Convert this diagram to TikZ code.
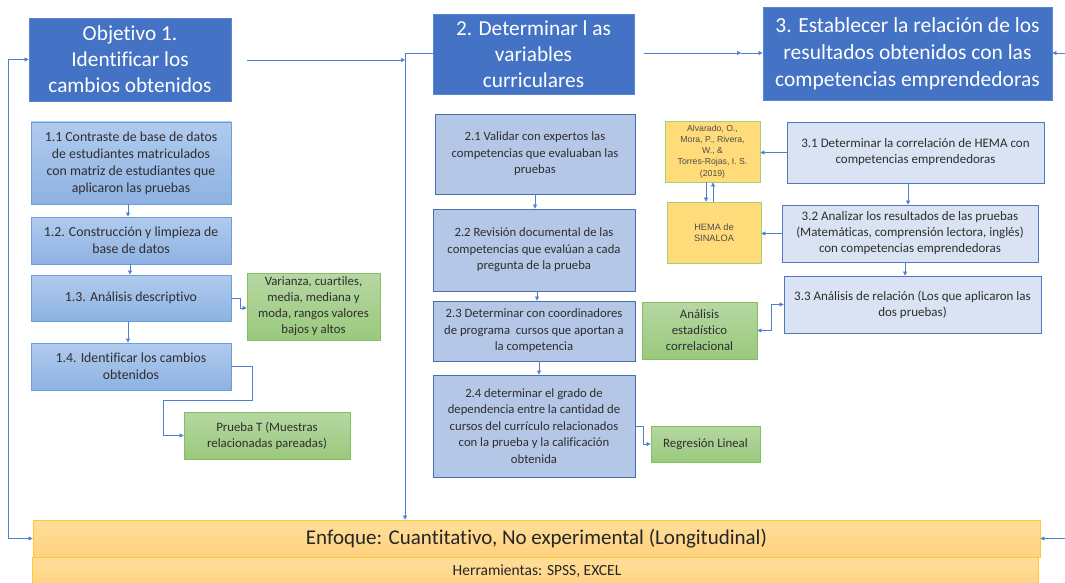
\documentclass[tikz,border=0pt]{standalone}
\usepackage{fontspec}
\setmainfont{Carlito}[Ligatures=NoCommon]
\newfontfamily\reffamily{Liberation Sans}
\usetikzlibrary{arrows.meta}

\definecolor{titleblue}{HTML}{4472C4}
\definecolor{titleedge}{HTML}{5A86CF}
\definecolor{oneTop}{HTML}{B1CBEE}
\definecolor{oneBot}{HTML}{8DB2E2}
\definecolor{oneEdge}{HTML}{6A9FDC}
\definecolor{twoFill}{HTML}{B4C7E7}
\definecolor{twoEdge}{HTML}{4A6FB0}
\definecolor{threeFill}{HTML}{DAE3F3}
\definecolor{threeEdge}{HTML}{4F78C2}
\definecolor{greenTop}{HTML}{B6D7A2}
\definecolor{greenBot}{HTML}{9AC97D}
\definecolor{greenEdge}{HTML}{86BE62}
\definecolor{refFill}{HTML}{FFDB7A}
\definecolor{refEdge}{HTML}{A5CF73}
\definecolor{baseTop}{HTML}{FFDE99}
\definecolor{baseBot}{HTML}{FFD27F}
\definecolor{baseEdge}{HTML}{FFC733}
\definecolor{linkblue}{HTML}{4F7FD0}
\definecolor{bodytext}{HTML}{2E2E2E}

\newcommand\titlefont{\fontsize{21.3}{26}\selectfont}
\newcommand\bigtitlefont{\fontsize{21.5}{27}\selectfont}
\newcommand\onefont{\fontsize{13.8}{17}\selectfont}
\newcommand\twofont{\fontsize{12.7}{16.5}\selectfont}
\newcommand\threefont{\fontsize{13}{16}\selectfont}
\newcommand\greenfont{\fontsize{12.8}{16}\selectfont}
\newcommand\reffont{\reffamily\fontsize{8.7}{11.2}\selectfont}

\begin{document}
\begin{tikzpicture}[x=1pt,y=-1pt,
  anybox/.style={rectangle, align=center, inner sep=2pt, line width=0.8pt},
  titlebox/.style={anybox, fill=titleblue, draw=titleedge, text=white, font=\titlefont},
  onebox/.style={anybox, top color=oneTop, bottom color=oneBot, draw=oneEdge, text=bodytext, font=\onefont},
  twobox/.style={anybox, fill=twoFill, draw=twoEdge, text=bodytext, font=\twofont},
  threebox/.style={anybox, fill=threeFill, draw=threeEdge, text=bodytext, font=\threefont},
  greenbox/.style={anybox, top color=greenTop, bottom color=greenBot, draw=greenEdge, text=bodytext, font=\greenfont},
  refbox/.style={anybox, fill=refFill, draw=refEdge, text=bodytext!85, font=\reffont},
  basebox/.style={anybox, top color=baseTop, bottom color=baseBot, draw=baseEdge, text=black!85},
  link/.style={draw=linkblue, line width=0.7pt},
  arr/.style={link, -{Triangle[length=4pt,width=4pt]}},
  biarr/.style={link, {Triangle[length=4pt,width=4pt]}-{Triangle[length=4pt,width=4pt]}}
]
\useasboundingbox (0,0) rectangle (1065,583);

% objective headers
\node[titlebox, minimum width=202pt, minimum height=83pt] (o1) at (130,59.5)
  {Objetivo 1.\\Identificar los\\cambios obtenidos};
\node[titlebox, minimum width=201pt, minimum height=80pt] (o2) at (533.5,54)
  {2. Determinar l as\\variables\\curriculares};
\node[titlebox, font=\bigtitlefont, minimum width=289pt, minimum height=93pt] (o3) at (907.5,53.5)
  {3. Establecer la relación de los\\resultados obtenidos con las\\competencias emprendedoras};

% column 1
\node[onebox, minimum width=200pt, minimum height=82pt] (s11) at (131,163)
  {1.1 Contraste de base de datos\\de estudiantes matriculados\\con matriz de estudiantes que\\aplicaron las pruebas};
\node[onebox, minimum width=200pt, minimum height=47pt] (s12) at (131,240.5)
  {1.2. Construcción y limpieza de\\base de datos};
\node[onebox, minimum width=200pt, minimum height=46pt] (s13) at (131,298)
  {1.3. Análisis descriptivo};
\node[onebox, minimum width=200pt, minimum height=47pt] (s14) at (131,366.5)
  {1.4. Identificar los cambios\\obtenidos};
\node[greenbox, minimum width=133pt, minimum height=67pt] (var) at (313.5,306.5)
  {Varianza, cuartiles,\\media, mediana y\\moda, rangos valores\\bajos y altos};
\node[greenbox, minimum width=166pt, minimum height=47pt] (pt) at (267,435.5)
  {Prueba T (Muestras\\relacionadas pareadas)};

% column 2
\node[twobox, minimum width=200pt, minimum height=80pt] (s21) at (535,154)
  {2.1 Validar con expertos las\\competencias que evaluaban las\\pruebas};
\node[twobox, minimum width=202pt, minimum height=82pt] (s22) at (534,250)
  {2.2 Revisión documental de las\\competencias que evalúan a cada\\pregunta de la prueba};
\node[twobox, minimum width=202pt, minimum height=60pt] (s23) at (534,331)
  {2.3 Determinar con coordinadores\\de programa\ \ cursos que aportan a\\la competencia};
\node[twobox, minimum width=202pt, minimum height=102pt] (s24) at (534,426)
  {2.4 determinar el grado de\\dependencia entre la cantidad de\\cursos del currículo relacionados\\con la prueba y la calificación\\obtenida};
\node[greenbox, minimum width=109pt, minimum height=36pt] (reg) at (705.5,444)
  {Regresión Lineal};
\node[greenbox, minimum width=115pt, minimum height=57pt] (ana) at (699.5,330.5)
  {Análisis\\estadístico\\correlacional};

% column 3
\node[threebox, minimum width=257pt, minimum height=61pt] (s31) at (915.5,152.5)
  {3.1 Determinar la correlación de HEMA con\\competencias emprendedoras};
\node[threebox, minimum width=256pt, minimum height=57pt] (s32) at (910,233.5)
  {3.2 Analizar los resultados de las pruebas\\(Matemáticas, comprensión lectora, inglés)\\con competencias emprendedoras};
\node[threebox, minimum width=257pt, minimum height=57pt] (s33) at (912.5,304.5)
  {3.3 Análisis de relación (Los que aplicaron las\\dos pruebas)};
\node[refbox, minimum width=95pt, minimum height=61pt] (alv) at (712.5,151.5)
  {Alvarado, O.,\\Mora, P., Rivera,\\W., \&\\Torres-Rojas, I. S.\\(2019)};
\node[refbox, font=\reffamily\fontsize{9.2}{11.5}\selectfont, minimum width=94pt, minimum height=61pt] (hema) at (714,232.5)
  {HEMA de\\SINALOA};

% approach and tools
\node[basebox, minimum width=1007pt, minimum height=37pt, font=\fontsize{21}{24}\selectfont] (enf) at (536.5,538.5)
  {Enfoque: Cuantitativo, No experimental (Longitudinal)};
\node[basebox, minimum width=1006pt, minimum height=33pt] (herr) at (535,573.5)
  {};
\node[font=\fontsize{15.5}{18}\selectfont, text=black!85, inner sep=0pt] (herrtxt) at (537,571.5)
  {Herramientas: SPSS, EXCEL};

% routing points
\coordinate (lft1) at (8,59.5);
\coordinate (lft2) at (8,538.5);
\coordinate (o1out) at (247,60);
\coordinate (spine) at (405,60);
\coordinate (spinetop) at (405,53);
\coordinate (o2out) at (644,53);
\coordinate (midarr) at (741,53);
\coordinate (rgt1) at (1065,53);
\coordinate (rgt2) at (1065,538.5);
\coordinate (k13a) at (240,298);
\coordinate (k13b) at (240,308);
\coordinate (k14a) at (252,366.5);
\coordinate (k14b) at (252,400);
\coordinate (k14c) at (163,400);
\coordinate (k14d) at (163,435.5);
\coordinate (k24a) at (643,426);
\coordinate (k24b) at (643,444);
\coordinate (k33a) at (771,304.5);
\coordinate (k33b) at (771,330.5);

% main flow
\draw[biarr] (o1.west) -- (lft1) -- (lft2) -- (enf.west);
\draw[arr] (o1out) -- (spine);
\draw[arr] (o2.west |- spinetop) -- (spinetop) -- (spinetop |- enf.north);
\draw[arr] (o2out) -- (midarr);
\draw[arr] (midarr) -- (o3.west |- midarr);
\draw[arr] (rgt1) -- (o3.east |- rgt1);
\draw[arr] (rgt2) -- (enf.east);

% column 1 links
\draw[arr] ([xshift=-3pt]s11.south) -- ([xshift=-3pt]s12.north);
\draw[arr] ([xshift=-1pt]s12.south) -- ([xshift=-1pt]s13.north);
\draw[arr] ([xshift=-3pt]s13.south) -- ([xshift=-3pt]s14.north);
\draw[arr] (s13.east) -- (k13a) -- (k13b) -- (var.west |- k13b);
\draw[arr] (s14.east) -- (k14a) -- (k14b) -- (k14c) -- (k14d) -- (pt.west);

% column 2 links
\draw[arr] (s21.south) -- (s21.south |- s22.north);
\draw[arr] ([xshift=3pt]s22.south) -- ([xshift=3pt]s23.north);
\draw[arr] ([xshift=5pt]s23.south) -- ([xshift=5pt]s24.north);
\draw[arr] (k24a -| s24.east) -- (k24a) -- (k24b) -- (reg.west);

% column 3 links
\draw[arr] ([xshift=-7.5pt]s31.south) -- ([xshift=-2pt]s32.north);
\draw[arr] ([xshift=-5pt]s32.south) -- ([xshift=-7.5pt]s33.north);
\draw[arr] (s31.west) -- (alv.east |- s31.west);
\draw[arr] (s32.west) -- (hema.east |- s32.west);
\draw[arr] ([xshift=-6.5pt]alv.south) -- ([xshift=-8pt]hema.north);
\draw[arr] ([xshift=-1pt]hema.north) -- ([xshift=0.5pt]alv.south);
\draw[biarr] (s33.west) -- (k33a) -- (k33b) -- (ana.east);
\end{tikzpicture}
\end{document}
